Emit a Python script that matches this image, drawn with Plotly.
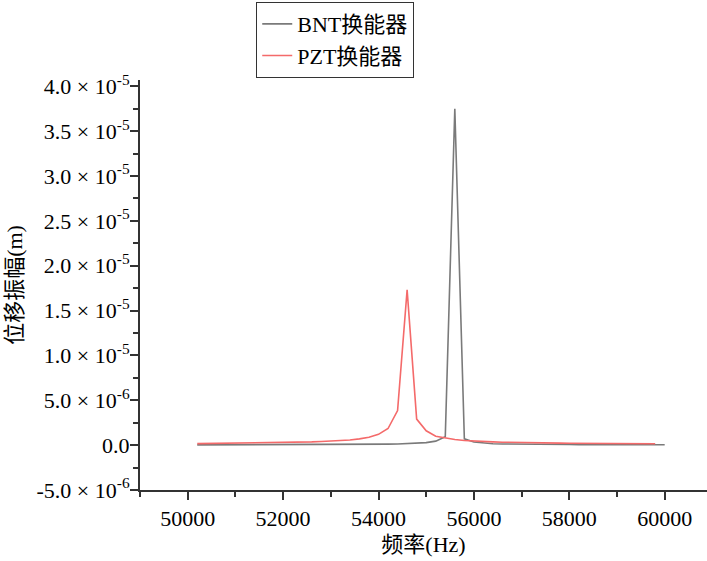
import plotly.graph_objects as go

# Frequency (Hz)
freq_pzt = list(range(50200, 59801, 200))
freq_bnt = list(range(50200, 60001, 200))

# Displacement amplitude (x1e-6 m)
pzt_um = [0.17, 0.18, 0.19, 0.20, 0.21, 0.22, 0.23, 0.25, 0.26, 0.28,
          0.30, 0.33, 0.36, 0.40, 0.44, 0.50, 0.58, 0.70, 0.88, 1.2,
          1.85, 3.85, 17.3, 2.9, 1.6, 1.0, 0.78, 0.62, 0.52, 0.45,
          0.40, 0.36, 0.33, 0.30, 0.28, 0.26, 0.25, 0.23, 0.22, 0.21,
          0.20, 0.19, 0.185, 0.18, 0.17, 0.165, 0.16, 0.155, 0.15]
bnt_um = [0.03, 0.03, 0.03, 0.035, 0.035, 0.035, 0.04, 0.04, 0.04, 0.045,
          0.045, 0.05, 0.05, 0.055, 0.06, 0.065, 0.07, 0.075, 0.08, 0.09,
          0.11, 0.13, 0.16, 0.20, 0.28, 0.45, 0.93, 37.5, 0.70, 0.35,
          0.22, 0.16, 0.13, 0.11, 0.10, 0.09, 0.08, 0.075, 0.07, 0.065,
          0.06, 0.055, 0.055, 0.05, 0.05, 0.045, 0.045, 0.04, 0.04, 0.04]

pzt = [v * 1e-6 for v in pzt_um]
bnt = [v * 1e-6 for v in bnt_um]

y_tickvals = [-5e-6, 0, 5e-6, 1e-5, 1.5e-5, 2e-5, 2.5e-5, 3e-5, 3.5e-5, 4e-5]
y_ticktext = ["-5.0 × 10<sup>-6</sup>", "0.0", "5.0 × 10<sup>-6</sup>",
              "1.0 × 10<sup>-5</sup>", "1.5 × 10<sup>-5</sup>", "2.0 × 10<sup>-5</sup>",
              "2.5 × 10<sup>-5</sup>", "3.0 × 10<sup>-5</sup>", "3.5 × 10<sup>-5</sup>",
              "4.0 × 10<sup>-5</sup>"]
x_tickvals = [50000, 52000, 54000, 56000, 58000, 60000]
x_ticktext = ["50000", "52000", "54000", "56000", "58000", "60000"]

font_family = "Liberation Serif, Times New Roman, Noto Sans CJK SC, serif"

fig = go.Figure()
fig.add_trace(go.Scatter(x=freq_bnt, y=bnt, mode="lines", name="BNT换能器",
                         line=dict(color="#7a7a7a", width=1.6)))
fig.add_trace(go.Scatter(x=freq_pzt, y=pzt, mode="lines", name="PZT换能器",
                         line=dict(color="#f46a6a", width=1.6)))

fig.update_layout(
    width=707, height=561,
    margin=dict(l=140, r=0, t=80, b=71),
    plot_bgcolor="white", paper_bgcolor="white",
    font=dict(family=font_family, size=22, color="black"),
    showlegend=True,
    legend=dict(x=0.205, y=1.19, xanchor="left", yanchor="top",
                bordercolor="#333333", borderwidth=1, bgcolor="white",
                font=dict(family=font_family, size=22),
                tracegroupgap=0, itemwidth=30),
    xaxis=dict(range=[49000, 60887], showline=True, linecolor="#333333", linewidth=2,
               tickvals=x_tickvals, ticktext=x_ticktext, ticks="outside", ticklen=8,
               tickwidth=1.5, tickcolor="#333333", showgrid=False, zeroline=False,
               tickfont=dict(size=22),
               minor=dict(dtick=1000, tick0=0, ticks="outside", ticklen=5,
                          tickcolor="#333333", tickwidth=1.5),
               title=dict(text="频率(Hz)", font=dict(size=22), standoff=6)),
    yaxis=dict(range=[-5e-6, 4.07e-5], showline=True, linecolor="#333333", linewidth=2,
               tickvals=y_tickvals, ticktext=y_ticktext, ticks="outside", ticklen=8,
               tickwidth=1.5, tickcolor="#333333", showgrid=False, zeroline=False,
               tickfont=dict(size=22), ticklabelstandoff=-4,
               minor=dict(tickvals=[v + 2.5e-6 for v in y_tickvals[:-1]] + [4.25e-5],
                          ticks="outside", ticklen=5, tickcolor="#333333", tickwidth=1.5),
               title=dict(text="位移振幅(m)", font=dict(size=22), standoff=8)),
)

fig.write_html("out.html")
